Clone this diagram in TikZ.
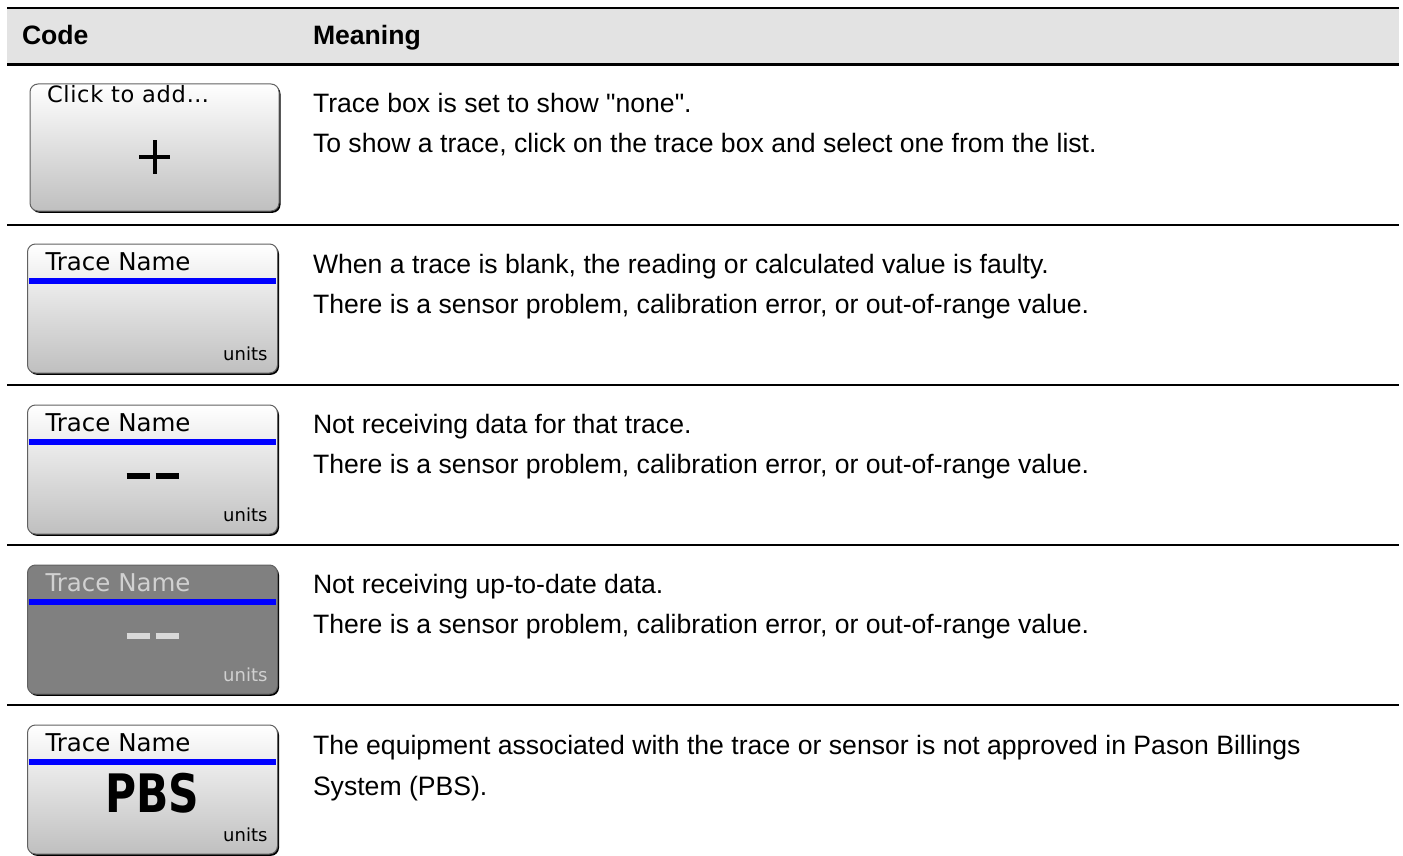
\documentclass[tikz,border=0pt]{standalone}
\usepackage{fontspec}
\usepackage{graphicx}
\setmainfont{Liberation Sans}[Ligatures=TeXOff]
\newfontfamily\widgetfont{DejaVu Sans}
\newfontfamily\widgetwide{DejaVu Sans}[LetterSpace=3]
\usetikzlibrary{calc,shadows}

\begin{document}
\begin{tikzpicture}[x=1pt,y=-1pt,
  every node/.style={inner sep=0pt,outer sep=0pt},
  rowtext/.style={anchor=base west,font=\fontsize{26.6}{32}\selectfont},
  headtext/.style={anchor=base west,font=\fontsize{26.6}{32}\selectfont\bfseries},
  rule/.style={line width=2pt},
  boxbase/.style={anchor=north west,minimum width=250pt,minimum height=129pt,rounded corners=8pt,draw=black!62,line width=1pt,
    general shadow={fill=black,shadow xshift=1.5pt,shadow yshift=-1.8pt}},
  tracebox/.style={boxbase,top color=white,bottom color=black!25},
  stalebox/.style={boxbase,fill=black!50},
  boxtitle/.style={anchor=base west,font=\widgetfont\fontsize{24.5}{28}\selectfont},
  boxunits/.style={anchor=base east,font=\widgetfont\fontsize{18}{20}\selectfont},
  bluebar/.style={fill=blue},
  dashbar/.style={line width=5.5pt},
  plusbar/.style={line width=4pt}]
\useasboundingbox (0,0) rectangle (1403,856);

% header band and row rules
\fill[black!11] (7,8.7) rectangle (1399,63.3);
\draw[rule] (7,7.7) -- (1399,7.7);
\draw[line width=2.7pt] (7,64.7) -- (1399,64.7);
\foreach \y in {225,385,545,705}
  \draw[rule] (7,\y) -- (1399,\y);

\node[headtext] (hcode) at (22,45) {Code};
\node[headtext] (hmean) at (313,45) {Meaning};

% row 1: empty trace box
\node[tracebox,minimum width=249pt,minimum height=127pt] (b1) at (30,84) {};
\node[boxtitle,font=\widgetwide\fontsize{22.5}{26}\selectfont] (n1) at ($(b1.north west)+(17,19)$) {Click to add…};
\draw[plusbar] ($(b1.north)+(0,56.5)$) -- ++(0,33)
  ($(b1.north)+(-15.5,73)$) -- ++(31,0);
\node[rowtext] (t1a) at (313,113) {Trace box is set to show "none".};
\node[rowtext] (t1b) at (313,153) {To show a trace, click on the trace box and select one from the list.};

% row 2: blank trace
\node[tracebox] (b2) at (27.5,244) {};
\fill[bluebar] ($(b2.north west)+(1.5,34)$) rectangle ($(b2.north east)+(-1.5,40)$);
\node[boxtitle] (n2) at ($(b2.north west)+(18,26)$) {Trace Name};
\node[boxunits] (u2) at ($(b2.south east)+(-10,-13)$) {units};
\node[rowtext] (t2a) at (313,273) {When a trace is blank, the reading or calculated value is faulty.};
\node[rowtext] (t2b) at (313,313) {There is a sensor problem, calibration error, or out-of-range value.};

% row 3: no data
\node[tracebox] (b3) at (27.5,405) {};
\fill[bluebar] ($(b3.north west)+(1.5,34)$) rectangle ($(b3.north east)+(-1.5,40)$);
\node[boxtitle] (n3) at ($(b3.north west)+(18,26)$) {Trace Name};
\draw[dashbar] ($(b3.north)+(-26,71)$) -- ++(23,0) ($(b3.north)+(3,71)$) -- ++(23,0);
\node[boxunits] (u3) at ($(b3.south east)+(-10,-13)$) {units};
\node[rowtext] (t3a) at (313,433) {Not receiving data for that trace.};
\node[rowtext] (t3b) at (313,473) {There is a sensor problem, calibration error, or out-of-range value.};

% row 4: stale data
\node[stalebox] (b4) at (27.5,565) {};
\fill[bluebar] ($(b4.north west)+(1.5,34)$) rectangle ($(b4.north east)+(-1.5,40)$);
\node[boxtitle,text=black!18] (n4) at ($(b4.north west)+(18,26)$) {Trace Name};
\draw[dashbar,black!15] ($(b4.north)+(-26,71)$) -- ++(23,0) ($(b4.north)+(3,71)$) -- ++(23,0);
\node[boxunits,text=black!18] (u4) at ($(b4.south east)+(-10,-13)$) {units};
\node[rowtext] (t4a) at (313,593) {Not receiving up-to-date data.};
\node[rowtext] (t4b) at (313,633) {There is a sensor problem, calibration error, or out-of-range value.};

% row 5: PBS
\node[tracebox] (b5) at (27.5,725) {};
\fill[bluebar] ($(b5.north west)+(1.5,34)$) rectangle ($(b5.north east)+(-1.5,40)$);
\node[boxtitle] (n5) at ($(b5.north west)+(18,26)$) {Trace Name};
\node[anchor=base,font=\widgetfont\fontsize{53}{60}\selectfont\bfseries] (p5) at ($(b5.north)+(0,87)$) {\scalebox{0.8}[1]{PBS}};
\node[boxunits] (u5) at ($(b5.south east)+(-10,-13)$) {units};
\node[rowtext] (t5a) at (313,754) {The equipment associated with the trace or sensor is not approved in Pason Billings};
\node[rowtext] (t5b) at (313,795) {System (PBS).};
\end{tikzpicture}
\end{document}
